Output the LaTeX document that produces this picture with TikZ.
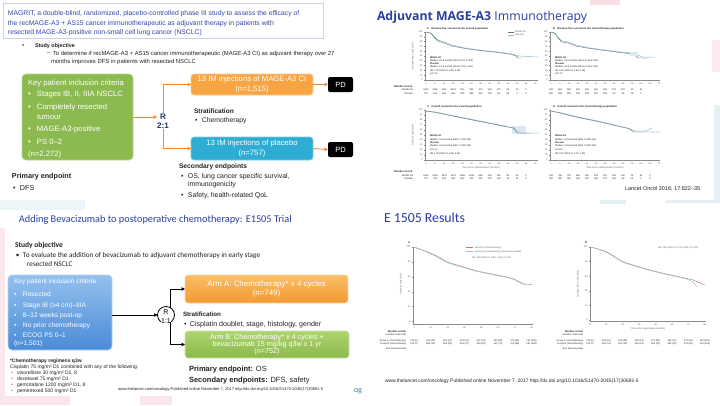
\documentclass[tikz,border=0pt]{standalone}
\usepackage{fontspec}
\setmainfont{Liberation Sans}
\newfontfamily\calfont{Carlito}
\newfontfamily\osfont{Open Sans}
\usetikzlibrary{arrows.meta,shadows}
\newcommand\fsz[1]{\fontsize{#1}{#1}\selectfont}
\definecolor{ttlblue}{HTML}{3447A8}
\definecolor{dkblue}{HTML}{2B3E9E}
\definecolor{txt}{HTML}{222222}
\definecolor{grn}{HTML}{8DBA50}
\definecolor{grnedge}{HTML}{B5D68A}
\definecolor{org}{HTML}{F7A443}
\definecolor{orgedge}{HTML}{FAC98A}
\definecolor{cyn}{HTML}{2DADD3}
\definecolor{cynedge}{HTML}{7ACDE6}
\definecolor{arr}{HTML}{EE8A3A}
\definecolor{navy}{HTML}{1F3270}
\definecolor{bxtop}{HTML}{93C0EE}
\definecolor{bxbot}{HTML}{4B8BD6}
\definecolor{otop}{HTML}{FABD66}
\definecolor{obot}{HTML}{F29A33}
\definecolor{gtop}{HTML}{AED472}
\definecolor{gbot}{HTML}{8CB94A}
\definecolor{axc}{HTML}{8A8A8A}
\definecolor{kmgray}{HTML}{6E6E6E}
\definecolor{kmblue}{HTML}{8CC0DA}
\definecolor{kmred}{HTML}{D07070}
\definecolor{tealtx}{HTML}{2B8A9E}
\definecolor{pinkbg}{HTML}{F8DDE2}
\definecolor{tealbg}{HTML}{E4F1F3}
\definecolor{bulred}{HTML}{C8506A}
\begin{document}
\begin{tikzpicture}[x=1pt,y=-1pt,
  every node/.style={inner sep=0pt,outer sep=0pt},
  lt/.style={anchor=west,text=txt},
  ax/.style={draw=axc,line width=0.3pt},
  tk/.style={font=\fsz{2.4},text=axc!70!black},
  tkb/.style={font=\bfseries\fsz{2.6},text=txt},
  oarr/.style={draw=arr,line width=0.9pt,-{Triangle[length=3.5pt,width=3.5pt]}},
  barr/.style={draw=black,line width=1pt,-{Triangle[length=3.5pt,width=3.5pt]}},
  pdbox/.style={fill=black,rounded corners=2pt,minimum width=25pt,minimum height=15pt,text=white,font=\fsz{7.5}},
  wtxt/.style={text=white,align=center},
]
\useasboundingbox (0,0) rectangle (720,405);
\fill[white] (0,0) rectangle (720,405);
% faint background decorations
\fill[pinkbg] (590,0) rectangle (620,5);
\fill[pinkbg!60] (712,40) rectangle (720,72);
\fill[tealbg] (714,105) rectangle (720,200);
\fill[tealbg] (600,200) rectangle (626,204);
\fill[tealbg] (665,200) rectangle (720,203);
\fill[pinkbg!70] (0,228) rectangle (5,405);
\fill[pinkbg!70] (0,396) rectangle (70,405);
\fill[pinkbg!70] (140,396) rectangle (172,405);
\fill[tealbg!70] (0,200) rectangle (85,210);

% ================= TOP LEFT =================
\node[draw=ttlblue!25, fill=white, drop shadow={shadow xshift=1pt,shadow yshift=-1pt,opacity=0.2}, minimum width=320pt, minimum height=35pt, anchor=north west] (tbox) at (3,3) {};
\node[lt,text=ttlblue,font=\fsz{6.8}] (tl1) at (8,14) {MAGRIT, a double-blind, randomized, placebo-controlled phase III study to assess the efficacy of};
\node[lt,text=ttlblue,font=\fsz{6.8}] (tl2) at (8,24) {the recMAGE-A3 + AS15 cancer immunotherapeutic as adjuvant therapy in patients with};
\node[lt,text=ttlblue,font=\fsz{6.8}] (tl3) at (8,33) {resected MAGE-A3-positive non-small cell lung cancer (NSCLC)};
\node[lt,font=\fsz{6}] (sob) at (22,46) {•};
\node[lt,font=\bfseries\fsz{5.4}] (so) at (35,46) {Study objective};
\node[lt,font=\fsz{5.9}] (sod) at (47,53.5) {–};
\node[lt,font=\fsz{5.9}] (so1) at (53,53.5) {To determine if recMAGE-A3 + AS15 cancer immunotherapeutic (MAGE-A3 CI) as adjuvant therapy over 27};
\node[lt,font=\fsz{5.9}] (so2) at (51,62) {months improves DFS in patients with resected NSCLC};

\node[draw=grnedge,line width=0.8pt,fill=grn,rounded corners=4pt,minimum width=111pt,minimum height=86pt,anchor=north west] (gbox) at (22,74) {};
\foreach \yy/\tx [count=\k] in {84/{Key patient inclusion criteria},94.5/{\makebox[9pt][l]{•}Stages IB, II, IIIA NSCLC},108/{\makebox[9pt][l]{•}Completely resected},117.5/{\hspace*{9pt}tumour},130/{\makebox[9pt][l]{•}MAGE-A3-positive},141.5/{\makebox[9pt][l]{•}PS 0–2},154.5/{(n=2,272)}}
  \node[anchor=west,text=white,font=\fsz{7.7}] (g\k) at (28,\yy) {\tx};

\node[draw=orgedge,line width=0.8pt,fill=org,rounded corners=3pt,minimum width=122pt,minimum height=21pt,anchor=north west,wtxt,font=\fsz{7.7}] (obox) at (191,74) {13 IM injections of MAGE-A3 CI\\[1.8pt](n=1,515)};
\node[draw=cynedge,line width=0.8pt,fill=cyn,rounded corners=3pt,minimum width=122pt,minimum height=23pt,anchor=north west,wtxt,font=\fsz{7.7}] (cbox) at (191,137) {13 IM injections of placebo\\[1.8pt](n=757)};
\node[pdbox,anchor=north west] (pd1) at (328,77) {PD};
\node[pdbox,anchor=north west] (pd2) at (328,142) {PD};
\node[text=navy,font=\bfseries\fsz{8},align=center] (R1) at (163,121) {R\\[1.5pt]2:1};
\draw[oarr] (gbox.east) -- (R1.west |- gbox.east);
\draw[oarr] (R1.north) |- (obox.west);
\draw[oarr] (R1.south) |- (cbox.west);
\draw[oarr] (obox.east) -- (pd1.west);
\draw[oarr] (cbox.east) -- (pd2.west);
\node[lt,font=\bfseries\fsz{6.5}] (st1) at (194,111) {Stratification};
\node[lt,font=\fsz{6.8}] (st2) at (195,121) {\makebox[7pt][l]{•}Chemotherapy};
\node[lt,font=\bfseries\fsz{6.7}] (se0) at (179,167) {Secondary endpoints};
\node[lt,font=\fsz{6.9}] (se1) at (181,177) {\makebox[7pt][l]{•}OS, lung cancer specific survival,};
\node[lt,font=\fsz{6.9}] (se2) at (188,185) {immunogenicity};
\node[lt,font=\fsz{6.9}] (se3) at (181,196) {\makebox[7pt][l]{•}Safety, health-related QoL};
\node[lt,font=\bfseries\fsz{7.2}] (pe0) at (12,177) {Primary endpoint};
\node[lt,font=\fsz{7.2}] (pe1) at (13,188) {\makebox[7pt][l]{•}DFS};

% ================= TOP RIGHT =================
\node[anchor=west,text=dkblue,font=\osfont\fsz{12.3}] (trt) at (377,17) {\textbf{Adjuvant MAGE-A3} Immunotherapy};
% --- chart A
\node[tkb,anchor=west] (cAt) at (427,29) {A\quad Disease-free survival in the overall population};
\draw[ax] (425,32) -- (425,80) -- (538,80);
\foreach \v [count=\k from 0] in {100,90,80,70,60,50,40,30,20,10,0}
  {\draw[ax] (425,32+4.8*\k) -- ++(-1.2,0); \node[tk,anchor=east] (yA\k) at (422.5,32+4.8*\k) {\v};}
\foreach \v [count=\k from 0] in {0,6,12,18,24,30,36,42,48,54,60,66,72}
  {\draw[ax] (426+9.1*\k,80) -- ++(0,1.2); \node[tk] (xA\k) at (426+9.1*\k,83.5) {\v};}
\node[tk,rotate=90] (ylA) at (413,56) {Disease-free survival (\%)};
\draw[kmblue,line width=0.5pt] (426,32) -- (431,33) -- (434,36) -- (438,40) -- (444,42) -- (452,45) -- (465,48) -- (480,50) -- (498,52) -- (512,54) -- (516,55) -- (519,56) -- (538,57);
\draw[kmgray,line width=0.4pt] (426,32) -- (431,33.5) -- (434,37) -- (438,41) -- (444,43) -- (452,46) -- (465,48.5) -- (480,50.5) -- (498,52.5) -- (512,54.5) -- (516,56) -- (518,58) -- (522,58);
\draw[kmgray,line width=0.3pt] (508,32) -- (514,32); \node[tk,anchor=west] (lgA1) at (515,32) {MAGE-A3};
\draw[kmblue,line width=0.3pt] (508,35) -- (514,35); \node[tk,anchor=west] (lgA2) at (515,35) {Placebo};
\node[tk,anchor=west,align=left,text=txt] (stA) at (430,66) {\textbf{MAGE-A3}\\[0.6pt]Median: 60.5 months (95\% CI 57.2–NR)\\[0.6pt]\textbf{Placebo}\\[0.6pt]Median: 57.9 months (95\% CI 55.7–NR)\\[2pt]HR 1.02 (95\% CI 0.89–1.18)\\[0.6pt]p=0.74};
\node[tkb,anchor=west] (nrA) at (394,86.5) {Number at risk};
\node[tk,anchor=east,text=txt] (nrA1) at (413,90) {MAGE-A3};
\node[tk,anchor=east,text=txt] (nrA2) at (413,94) {Placebo};
\foreach \v [count=\k from 0] in {1515,1282,1110,1013,903,804,479,318,170,56,13,1}
  \node[tk,text=txt] (rA1\k) at (426+9.1*\k,90) {\v};
\foreach \v [count=\k from 0] in {757,643,550,504,445,398,252,163,82,28,4,0}
  \node[tk,text=txt] (rA2\k) at (426+9.1*\k,94) {\v};
% --- chart B
\node[tkb,anchor=west] (cBt) at (553,29) {B\quad Disease-free survival in the chemotherapy population};
\draw[ax] (550,32) -- (550,80) -- (660,80);
\foreach \v [count=\k from 0] in {100,90,80,70,60,50,40,30,20,10,0}
  {\draw[ax] (550,32+4.8*\k) -- ++(-1.2,0); \node[tk,anchor=east] (yB\k) at (547.5,32+4.8*\k) {\v};}
\foreach \v [count=\k from 0] in {0,6,12,18,24,30,36,42,48,54,60,66,72}
  {\draw[ax] (551+9*\k,80) -- ++(0,1.2); \node[tk] (xB\k) at (551+9*\k,83.5) {\v};}
\draw[kmblue,line width=0.5pt] (551,32) -- (555,33) -- (558,37) -- (562,41) -- (568,42) -- (576,45) -- (590,48) -- (605,50) -- (620,52) -- (634,53) -- (638,55) -- (642,57) -- (655,57);
\draw[kmgray,line width=0.4pt] (551,32) -- (555,33.5) -- (558,38) -- (562,42) -- (568,43) -- (576,46) -- (590,48.5) -- (605,50.5) -- (620,52.5) -- (634,54) -- (638,58) -- (648,58);
\fill[kmblue!35] (630,52) rectangle (638,56);
\node[tk,anchor=west,align=left,text=txt] (stB) at (555,66) {\textbf{MAGE-A3}\\[0.6pt]Median: 58.0 months (95\% CI 56.6–NR)\\[0.6pt]\textbf{Placebo}\\[0.6pt]Median: 56.9 months (95\% CI 44.4–NR)\\[2pt]HR 0.97 (95\% CI 0.80–1.18)\\[0.6pt]p=0.76};
\foreach \v [count=\k from 0] in {784,664,565,521,462,416,248,173,100,33,11}
  \node[tk,text=txt] (rB1\k) at (551+9*\k,90) {\v};
\foreach \v [count=\k from 0] in {392,336,285,262,234,212,129,82,46,18,1}
  \node[tk,text=txt] (rB2\k) at (551+9*\k,94) {\v};
% --- chart C
\node[tkb,anchor=west] (cCt) at (427,106.5) {C\quad Overall survival in the overall population};
\draw[ax] (425,110) -- (425,160) -- (538,160);
\foreach \v [count=\k from 0] in {100,90,80,70,60,50,40,30,20,10,0}
  {\draw[ax] (425,110+5*\k) -- ++(-1.2,0); \node[tk,anchor=east] (yC\k) at (422.5,110+5*\k) {\v};}
\foreach \v [count=\k from 0] in {0,6,12,18,24,30,36,42,48,54,60,66,72}
  {\draw[ax] (426+9.1*\k,160) -- ++(0,1.2); \node[tk] (xC\k) at (426+9.1*\k,163.5) {\v};}
\node[tk] (xlC) at (481,168) {Time since randomisation (months)};
\node[tk,rotate=90] (ylC) at (413,135) {Overall survival (\%)};
\fill[kmblue!35] (512,126) rectangle (526,134);
\draw[kmblue,line width=0.5pt] (426,111) -- (436,112) -- (450,115) -- (470,119) -- (490,123) -- (505,126) -- (512,128) -- (516,130) -- (520,133) -- (538,133);
\draw[kmgray,line width=0.4pt] (426,111) -- (436,112.5) -- (450,115.5) -- (470,119.5) -- (490,123.5) -- (505,126.5) -- (514,128) -- (517,133) -- (530,133);
\node[tk,anchor=west,align=left,text=txt] (stC) at (430,145) {\textbf{MAGE-A3}\\[0.8pt]Median: not reached (95\% CI NR–NR)\\[0.8pt]\textbf{Placebo}\\[0.8pt]Median: not reached (95\% CI NR–NR)\\[2pt]p=0.74\\[0.8pt]HR 1.04 (95\% CI 0.85–1.26)};
\node[tkb,anchor=west] (nrC) at (394,172) {Number at risk};
\node[tk,anchor=east,text=txt] (nrC1) at (413,175.5) {MAGE-A3};
\node[tk,anchor=east,text=txt] (nrC2) at (413,179) {Placebo};
\foreach \v [count=\k from 0] in {1515,1464,1376,1273,1158,1025,666,444,251,83,23,1}
  \node[tk,text=txt] (rC1\k) at (426+9.1*\k,175.5) {\v};
\foreach \v [count=\k from 0] in {757,730,692,643,583,513,334,220,124,39,11,0}
  \node[tk,text=txt] (rC2\k) at (426+9.1*\k,179) {\v};
% --- chart D
\node[tkb,anchor=west] (cDt) at (553,106.5) {D\quad Overall survival in the chemotherapy population};
\draw[ax] (550,110) -- (550,160) -- (660,160);
\foreach \v [count=\k from 0] in {100,90,80,70,60,50,40,30,20,10,0}
  {\draw[ax] (550,110+5*\k) -- ++(-1.2,0); \node[tk,anchor=east] (yD\k) at (547.5,110+5*\k) {\v};}
\foreach \v [count=\k from 0] in {0,6,12,18,24,30,36,42,48,54,60,66,72}
  {\draw[ax] (551+9*\k,160) -- ++(0,1.2); \node[tk] (xD\k) at (551+9*\k,163.5) {\v};}
\node[tk] (xlD) at (605,168) {Time since randomisation (months)};
\draw[kmblue,line width=0.5pt] (551,111) -- (562,113) -- (578,117) -- (598,121) -- (615,125) -- (628,128) -- (635,131) -- (645,131) -- (652,128);
\draw[kmgray,line width=0.4pt] (551,111) -- (562,113.5) -- (578,117.5) -- (598,121.5) -- (615,125.5) -- (628,128.5) -- (634,132) -- (660,132);
\node[tk,anchor=west,align=left,text=txt] (stD) at (555,145) {\textbf{MAGE-A3}\\[0.8pt]Median: not reached (95\% CI NR–NR)\\[0.8pt]\textbf{Placebo}\\[0.8pt]Median: not reached (95\% CI NR–NR)\\[2pt]p=0.82\\[0.8pt]HR 0.97 (95\% CI 0.75–1.25)};
\foreach \v [count=\k from 0] in {784,758,710,655,592,521,337,228,130,45,11,1}
  \node[tk,text=txt] (rD1\k) at (551+9*\k,175.5) {\v};
\foreach \v [count=\k from 0] in {392,380,360,334,302,268,173,118,66,24,1,0}
  \node[tk,text=txt] (rD2\k) at (551+9*\k,179) {\v};
\node[lt,font=\fsz{5.5}] (lan) at (625,189) {Lancet Oncol 2016; 17:822–35};

% ================= BOTTOM LEFT =================
\node[anchor=west,text=dkblue,font=\calfont\fsz{10.3}] (blt) at (19,220) {Adding Bevacizumab to postoperative chemotherapy: E1505 Trial};
\node[lt,font=\calfont\bfseries\fsz{7.5}] (bso) at (15,245) {Study objective};
\node[lt,font=\calfont\fsz{7.2}] (bs1) at (16,256) {\makebox[7pt][l]{•}To evaluate the addition of bevacizumab to adjuvant chemotherapy in early stage};
\node[lt,font=\calfont\fsz{7.2}] (bs2) at (27,264) {resected NSCLC};
\node[draw=bxtop!70!white,line width=0.6pt,top color=bxtop,bottom color=bxbot,rounded corners=4pt,minimum width=104pt,minimum height=75pt,anchor=north west] (bbox) at (8,275) {};
\foreach \yy/\tx [count=\k] in {282/{Key patient inclusion criteria},294/{\makebox[9pt][l]{•}Resected},306/{\makebox[9pt][l]{•}Stage IB (≥4 cm)–IIIA},316/{\makebox[9pt][l]{•}8–12 weeks post-op},326/{\makebox[9pt][l]{•}No prior chemotherapy},335/{\makebox[9pt][l]{•}ECOG PS 0–1},343.5/{(n=1,501)}}
  \node[anchor=west,text=white,font=\fsz{6.6}] (b\k) at (14,\yy) {\tx};
\node[draw=black,line width=0.8pt,fill=white,circle,minimum size=17pt] (Rc) at (166,315) {};
\node[font=\fsz{7}] (RcR) at (166,312) {R};
\node[font=\fsz{7},fill=white,inner sep=0.3pt] (Rc11) at (166,321.5) {1:1};
\draw[barr] (bbox.east |- Rc.west) -- (Rc.west);
\node[draw=otop!60!white,line width=0.6pt,top color=otop,bottom color=obot,rounded corners=3pt,minimum width=163pt,minimum height=28pt,anchor=north west,wtxt,font=\fsz{7.9}] (aA) at (185,275) {Arm A: Chemotherapy* x 4 cycles\\[0.5pt](n=749)};
\node[draw=gtop!60!white,line width=0.6pt,top color=gtop,bottom color=gbot,rounded corners=3pt,minimum width=164pt,minimum height=27pt,anchor=north west,wtxt,font=\fsz{7.2}] (aB) at (185,331) {Arm B: Chemotherapy* x 4 cycles +\\[-0.4pt]bevacizumab 15 mg/kg q3w x 1 yr\\[-0.4pt](n=752)};
\draw[barr] (Rc.60) |- (aA.west);
\draw[barr] (Rc.-60) |- (aB.west);
\node[lt,font=\bfseries\fsz{6.2}] (bst1) at (183,314) {Stratification};
\node[lt,font=\fsz{7.1}] (bst2) at (184,325) {\makebox[6pt][l]{•}Cisplatin doublet, stage, histology, gender};
\node[lt,font=\fsz{7.5}] (bpe) at (189,370) {\textbf{Primary endpoint:} OS};
\node[lt,font=\fsz{7.5}] (bse) at (189,380.5) {\textbf{Secondary endpoints:} DFS, safety};
\node[lt,font=\bfseries\fsz{5}] (fn0) at (10,361.5) {*Chemotherapy regimens q3w};
\node[lt,font=\fsz{5}] (fn1) at (10,367) {Cisplatin 75 mg/m² D1 combined with any of the following:};
\foreach \yy/\tx [count=\k] in {373.3/{vinorelbine 30 mg/m² D1, 8},379.3/{docetaxel 75 mg/m² D1},385.5/{gemcitabine 1200 mg/m² D1, 8},391.5/{pemetrexed 500 mg/m² D1}}
  {\node[anchor=west,text=bulred,font=\fsz{5}] (fb\k) at (11,\yy) {•};
   \node[lt,font=\fsz{5}] (ft\k) at (17,\yy) {\tx};}
\node[lt,font=\fsz{4}] (burl) at (118,389.5) {www.thelancet.com/oncology Published online November 7, 2017 http://dx.doi.org/10.1016/S1470-2045(17)30691-5};
\node[anchor=west,text=tealtx,font=\calfont\fsz{8}] (og) at (354,391) {og};

% ================= BOTTOM RIGHT =================
\node[anchor=west,text=dkblue,font=\calfont\fsz{13.8}] (ert) at (384,218) {E 1505 Results};
% --- chart EA
\node[tkb,anchor=west] (eAl) at (408,242.5) {A};
\draw[ax] (413,247) -- (413,324) -- (533,324);
\foreach \v [count=\k from 0] in {100,80,60,40,20,0}
  {\draw[ax] (413,247+14.9*\k) -- ++(-1.2,0); \node[tk,anchor=east] (yEA\k) at (410.5,247+14.9*\k) {\v};}
\foreach \v [count=\k from 0] in {0,12,24,36,48,60,72,84}
  {\draw[ax] (414+16.8*\k,324) -- ++(0,1.2); \node[tk] (xEA\k) at (414+16.8*\k,327.5) {\v};}
\node[tk,rotate=90] (ylEA) at (401,284) {Overall survival (\%)};
\draw[kmred,line width=0.45pt] (414,247) -- (428,252) -- (438,256.5) -- (447,262) -- (457,265) -- (467,268) -- (477,271) -- (487,273) -- (497,275) -- (507,277) -- (514,279) -- (520,282) -- (524,284) -- (528,284) -- (532,284.5);
\draw[kmblue,line width=0.45pt] (414,247) -- (428,252.5) -- (438,257.5) -- (447,262.5) -- (457,266) -- (467,268.5) -- (477,271.5) -- (487,273.5) -- (497,275.5) -- (507,277.5) -- (514,279.5) -- (520,283) -- (524,284.5) -- (530,285);
\draw[kmred,line width=0.3pt] (466,247.5) -- (473,247.5); \node[tk,anchor=west] (lgE1) at (475,247.5) {Group A (chemotherapy)};
\draw[kmblue,line width=0.3pt] (466,251.5) -- (473,251.5); \node[tk,anchor=west] (lgE2) at (475,251.5) {Group B (chemotherapy plus bevacizumab)};
\node[tk,anchor=west] (hrEA) at (472,257.5) {HR 0.99 (95\% CI 0.82–1.19); p=0.90};
\node[tkb,anchor=east] (nrEA) at (406,332) {Number at risk};
\node[tk,anchor=east,text=txt] (nrEAc) at (406,334.8) {(number censored)};
\node[tk,anchor=east,text=txt] (nrEA1) at (406,340.7) {Group A (chemotherapy)};
\node[tk,anchor=east,text=txt] (nrEA2) at (406,344.3) {Group B (chemotherapy};
\node[tk,anchor=east,text=txt] (nrEA3) at (406,348.5) {plus bevacizumab)};
\foreach \v [count=\k from 0] in {749 (0),654 (12),582 (27),521 (41),457 (62),410 (83),370 (96),137 (293)}
  \node[tk,text=txt] (rEA1\k) at (414+16.8*\k,340.7) {\v};
\foreach \v [count=\k from 0] in {752 (0),665 (10),583 (26),524 (37),463 (50),412 (70),376 (86),141 (284)}
  \node[tk,text=txt] (rEA2\k) at (414+16.8*\k,344.3) {\v};
% --- chart EB
\node[tkb,anchor=west] (eBl) at (585,242.5) {B};
\draw[ax] (590,247) -- (590,321) -- (706,321);
\foreach \v [count=\k from 0] in {100,80,60,40,20,0}
  {\draw[ax] (590,247+14.6*\k) -- ++(-1.2,0); \node[tk,anchor=east] (yEB\k) at (587.5,247+14.6*\k) {\v};}
\foreach \v [count=\k from 0] in {0,12,24,36,48,60,72,84}
  {\draw[ax] (590+16.4*\k,321) -- ++(0,1.2); \node[tk] (xEB\k) at (590+16.4*\k,324.5) {\v};}
\node[tk] (xlEB) at (648,328.5) {Time since registration (months)};
\node[tk,rotate=90] (ylEB) at (578,284) {Disease-free survival (\%)};
\draw[kmred,line width=0.45pt] (591,247) -- (600,249.5) -- (607,252) -- (615,257) -- (623,262) -- (633,265) -- (643,268) -- (652,270.5) -- (662,273) -- (671,275) -- (680,277) -- (687,278.5) -- (693,280) -- (699,282.5) -- (705,285);
\draw[kmblue,line width=0.45pt] (591,247) -- (600,250) -- (607,252.5) -- (615,257.5) -- (623,262.5) -- (633,265.5) -- (643,268.5) -- (652,271) -- (662,273.5) -- (671,275.5) -- (680,277.5) -- (687,279) -- (693,282) -- (697,287);
\node[tk,anchor=west] (hrEB) at (658,247.5) {HR 0.83 (95\% CI 0.70–0.99); p=0.037};
\node[tkb,anchor=east] (nrEB) at (583,332) {Number at risk};
\node[tk,anchor=east,text=txt] (nrEBc) at (583,334.8) {(number censored)};
\node[tk,anchor=east,text=txt] (nrEB1) at (583,340.7) {Group A (chemotherapy)};
\node[tk,anchor=east,text=txt] (nrEB2) at (583,344.3) {Group B (chemotherapy};
\node[tk,anchor=east,text=txt] (nrEB3) at (583,348.5) {plus bevacizumab)};
\foreach \v [count=\k from 0] in {749 (0),604 (16),516 (26),446 (41),372 (60),330 (76),272 (90),119 (226)}
  \node[tk,text=txt] (rEB1\k) at (590+16.4*\k,340.7) {\v};
\foreach \v [count=\k from 0] in {752 (0),625 (13),523 (23),456 (33),381 (47),335 (63),279 (81),123 (218)}
  \node[tk,text=txt] (rEB2\k) at (590+16.4*\k,344.3) {\v};
\node[lt,font=\fsz{4.95}] (rurl) at (385,381) {www.thelancet.com/oncology Published online November 7, 2017 http://dx.doi.org/10.1016/S1470-2045(17)30691-5};
\end{tikzpicture}
\end{document}
